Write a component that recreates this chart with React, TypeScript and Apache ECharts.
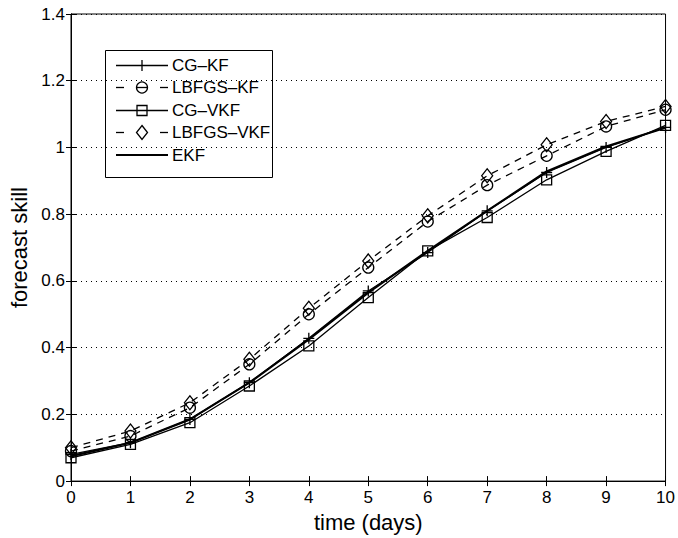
import React, { useEffect, useRef } from "react";
import * as echarts from "echarts";

const days = [0, 1, 2, 3, 4, 5, 6, 7, 8, 9, 10];
const cgKF = [0.08, 0.115, 0.185, 0.295, 0.428, 0.57, 0.685, 0.81, 0.925, 1.0, 1.06];
const lbfgsKF = [0.09, 0.135, 0.22, 0.35, 0.5, 0.64, 0.778, 0.887, 0.975, 1.063, 1.113];
const cgVKF = [0.07, 0.11, 0.175, 0.285, 0.405, 0.55, 0.69, 0.79, 0.903, 0.988, 1.066];
const lbfgsVKF = [0.1, 0.15, 0.235, 0.365, 0.518, 0.66, 0.795, 0.915, 1.008, 1.078, 1.123];
const ekf = [0.075, 0.115, 0.185, 0.295, 0.425, 0.565, 0.69, 0.81, 0.928, 1.003, 1.059];
const yTicks = [0, 0.2, 0.4, 0.6, 0.8, 1.0, 1.2, 1.4];
const seriesNames = ["CG\u2013KF", "LBFGS\u2013KF", "CG\u2013VKF", "LBFGS\u2013VKF", "EKF"];

const FONT = "'Liberation Sans', Arial, Helvetica, sans-serif";
const PLUS = "path://M5,0 L5,10 M0,5 L10,5";

function mk(name: string, vals: number[], symbol: string, size: number | number[], dashed: boolean, width: number) {
  return {
    name,
    type: "line",
    data: days.map((d, i) => [d, vals[i]]),
    symbol,
    symbolSize: size,
    showSymbol: symbol !== "none",
    lineStyle: { color: "#000", width, type: dashed ? [7, 6] : "solid" },
    itemStyle: { color: "rgba(255,255,255,0)", borderColor: "#000", borderWidth: 1.3 },
    emphasis: { disabled: true },
  };
}

function legendGraphic() {
  const bx = 105, by = 50, bw = 167, bh = 127;
  const x0 = 116, x1 = 168, xm = 142, tx = 172;
  const rows = [65.5, 87.5, 110.5, 132.5, 155];
  const stroke = { stroke: "#000", lineWidth: 1.3, fill: "none" };
  const children: any[] = [
    { type: "rect", shape: { x: bx + 0.5, y: by + 0.5, width: bw, height: bh }, style: { fill: "#fff", stroke: "#000", lineWidth: 1 } },
  ];
  const seg = (a: number, b: number, y: number, w = 1.3) => ({ type: "line", shape: { x1: a, y1: y, x2: b, y2: y }, style: { stroke: "#000", lineWidth: w } });
  let y = rows[0];
  children.push(seg(x0, x1, y));
  children.push({ type: "line", shape: { x1: xm, y1: y - 5.5, x2: xm, y2: y + 5.5 }, style: stroke });
  y = rows[1];
  children.push(seg(x0, x0 + 8, y), seg(x1 - 8, x1, y), seg(xm - 5, xm + 5, y));
  children.push({ type: "circle", shape: { cx: xm, cy: y, r: 5.5 }, style: stroke });
  y = rows[2];
  children.push(seg(x0, x1, y));
  children.push({ type: "rect", shape: { x: xm - 5, y: y - 5, width: 10, height: 10 }, style: stroke });
  y = rows[3];
  children.push(seg(x0, x0 + 8, y), seg(x1 - 8, x1, y));
  children.push({ type: "polygon", shape: { points: [[xm, y - 7], [xm + 5.5, y], [xm, y + 7], [xm - 5.5, y]] }, style: stroke });
  y = rows[4];
  children.push(seg(x0, x1, y, 2.2));
  seriesNames.forEach((n, i) => {
    children.push({ type: "text", x: tx, y: rows[i], style: { text: n, fill: "#000", font: `17px ${FONT}`, verticalAlign: "middle", align: "left" } });
  });
  return [{ type: "group", z: 100, children }];
}

export default function App() {
  const ref = useRef<HTMLDivElement>(null);
  useEffect(() => {
    const chart = echarts.init(ref.current!, null, { renderer: "svg" });
    const axisCommon = {
      axisLine: { show: true, lineStyle: { color: "#000", width: 1 } },
      axisTick: { show: true, inside: true, length: 5, lineStyle: { color: "#000" } },
    };
    chart.setOption({
      animation: false,
      backgroundColor: "#fff",
      textStyle: { fontFamily: FONT },
      grid: { left: 71, right: 11, top: 14, bottom: 56, show: true, borderColor: "#000", borderWidth: 1, backgroundColor: "#fff" },
      graphic: legendGraphic(),
      xAxis: [
        {
          type: "value",
          min: 0,
          max: 10,
          interval: 1,
          ...axisCommon,
          splitLine: { show: false },
          axisLabel: { color: "#000", fontSize: 17, margin: 8, fontFamily: FONT },
          name: "time (days)",
          nameLocation: "middle",
          nameGap: 29,
          nameTextStyle: { color: "#000", fontSize: 22, fontFamily: FONT },
        },
        {
          type: "value",
          position: "top",
          min: 0,
          max: 10,
          interval: 1,
          ...axisCommon,
          splitLine: { show: false },
          axisLabel: { show: false },
        },
      ],
      yAxis: [
        {
          type: "value",
          min: 0,
          max: 1.4,
          interval: 0.2,
          ...axisCommon,
          splitLine: { show: true, lineStyle: { color: "#000", type: [1, 4], width: 1 } },
          axisLabel: {
            color: "#000",
            fontSize: 17,
            margin: 6,
            fontFamily: FONT,
            formatter: (v: number) => {
              const t = yTicks.find((yy) => Math.abs(yy - v) < 1e-6);
              return t === undefined ? "" : String(t);
            },
          },
          name: "forecast skill",
          nameLocation: "middle",
          nameGap: 40,
          nameTextStyle: { color: "#000", fontSize: 22, fontFamily: FONT },
        },
        {
          type: "value",
          position: "right",
          min: 0,
          max: 1.4,
          interval: 0.2,
          ...axisCommon,
          splitLine: { show: false },
          axisLabel: { show: false },
        },
      ],
      series: [
        mk(seriesNames[0], cgKF, PLUS, 11, false, 1.3),
        mk(seriesNames[1], lbfgsKF, "circle", 11, true, 1.3),
        mk(seriesNames[2], cgVKF, "rect", 10, false, 1.3),
        mk(seriesNames[3], lbfgsVKF, "diamond", [11, 14], true, 1.3),
        mk(seriesNames[4], ekf, "none", 0, false, 2.2),
      ],
    });
    return () => chart.dispose();
  }, []);
  return <div ref={ref} style={{ position: "fixed", left: 0, top: 0, width: 678, height: 538 }} />;
}
